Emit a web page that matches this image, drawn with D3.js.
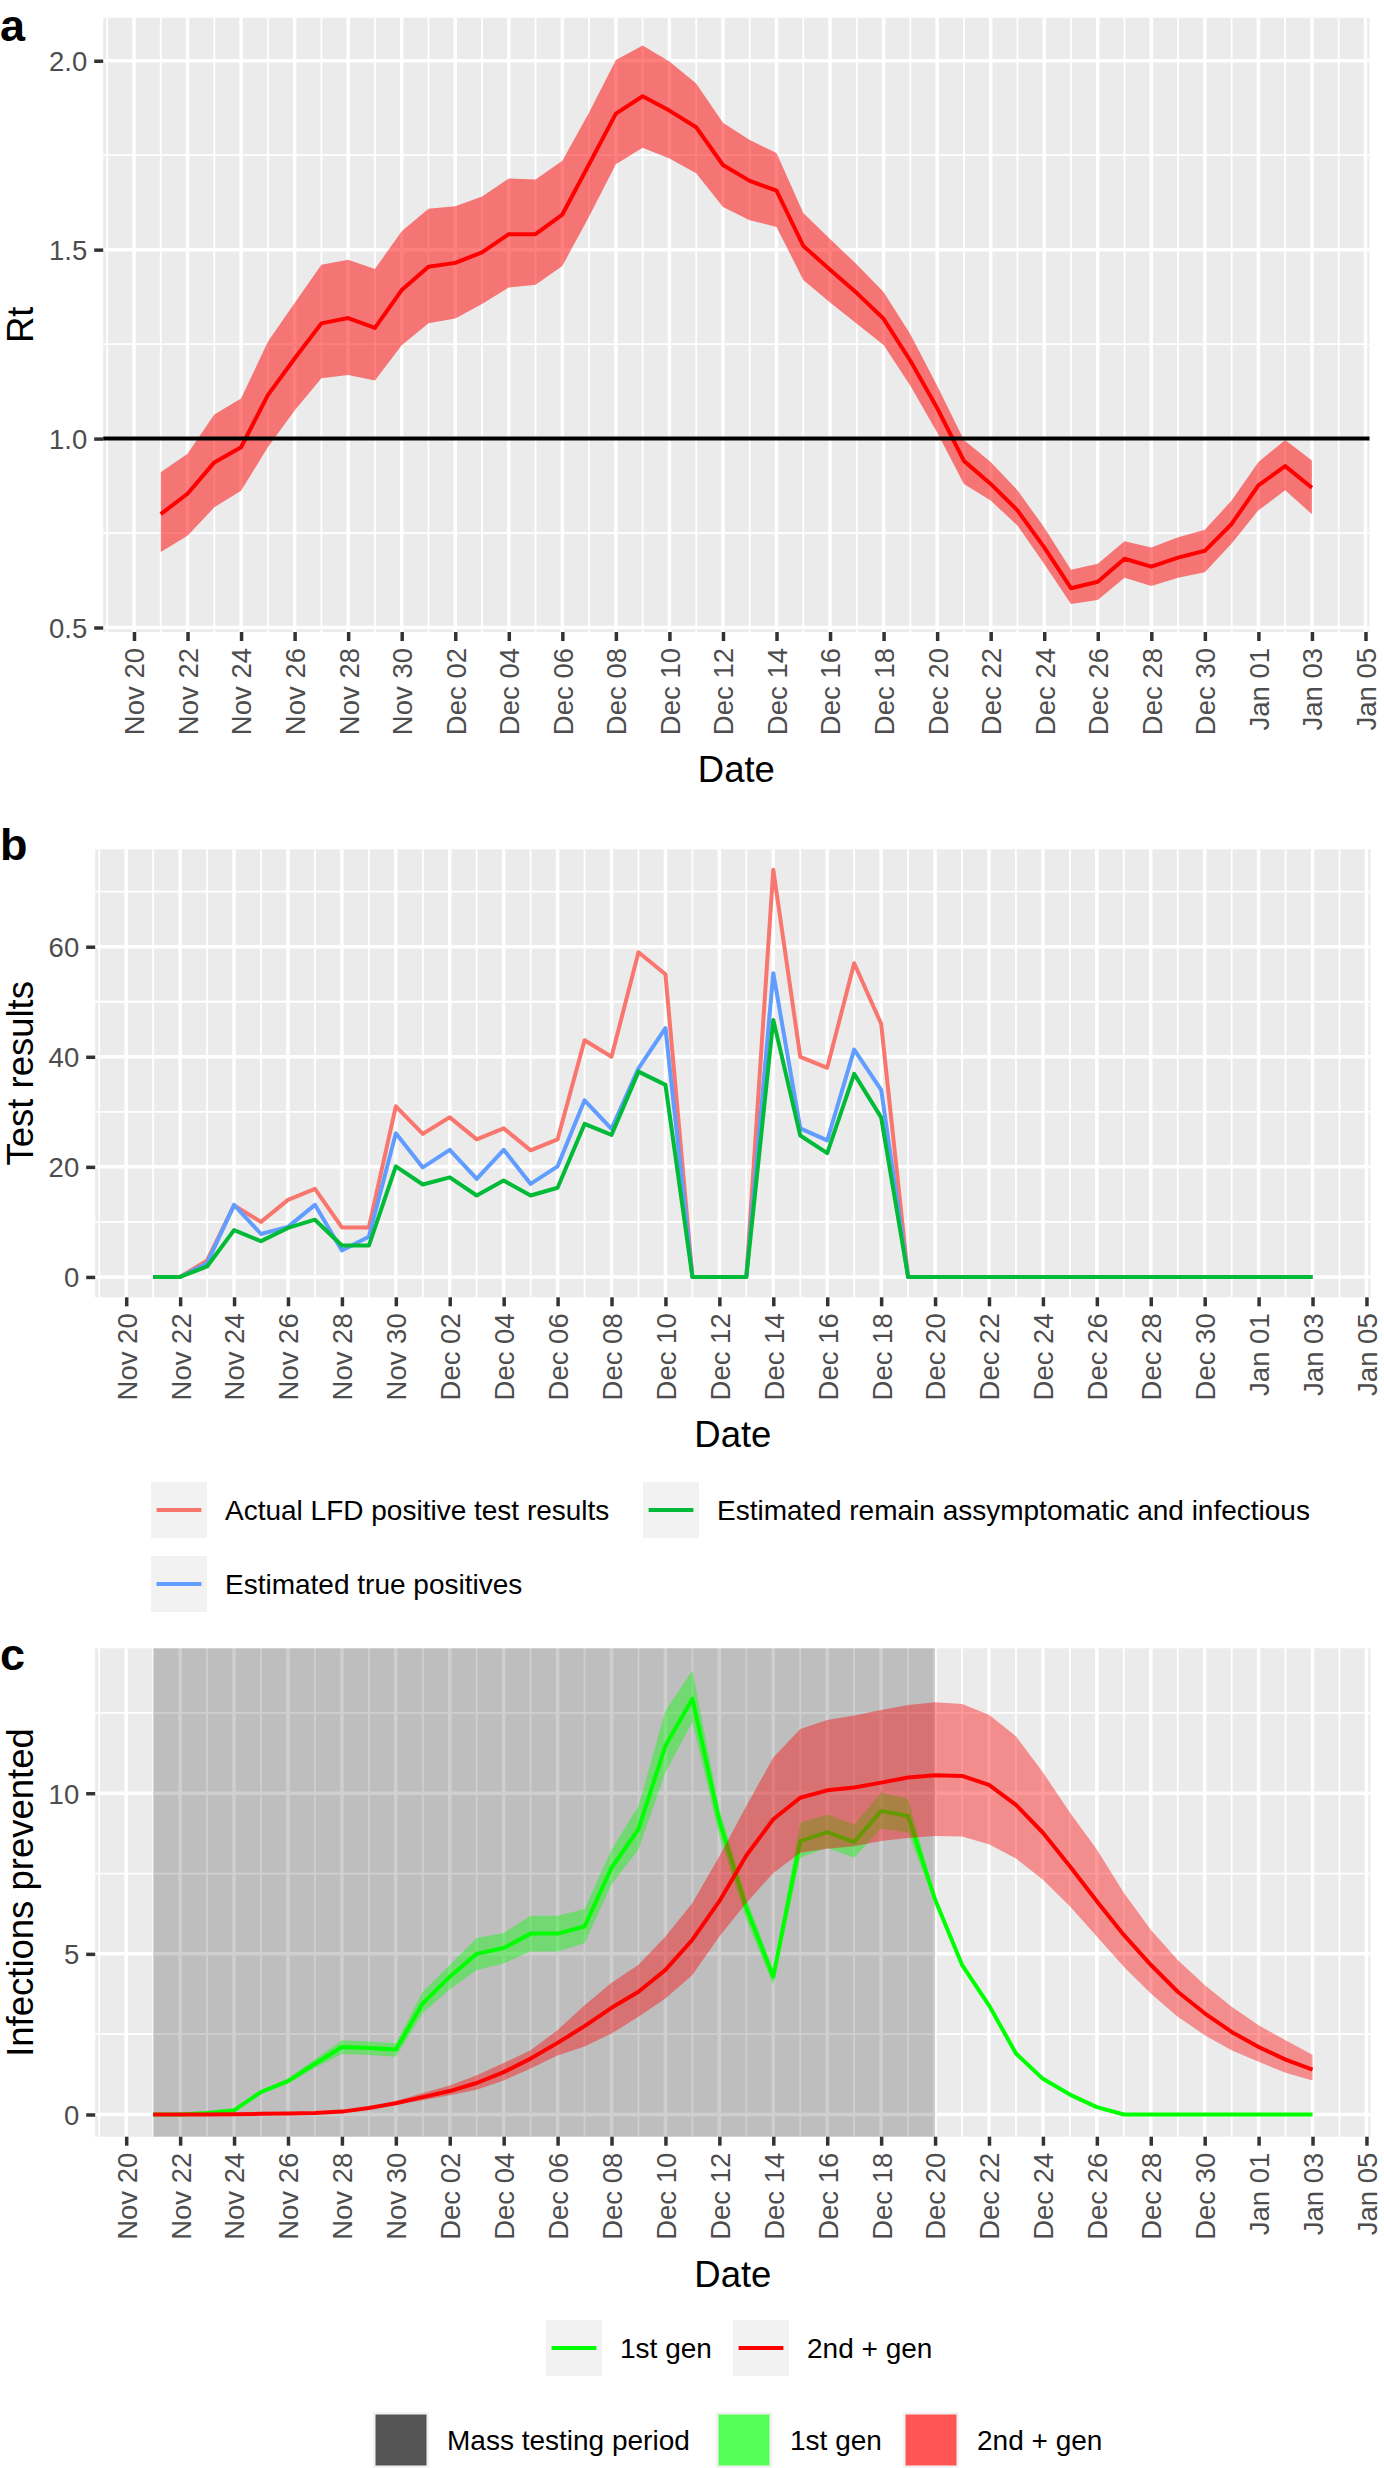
<!DOCTYPE html>
<html><head><meta charset="utf-8">
<script src="https://cdn.jsdelivr.net/npm/d3@7"></script>
<style>
body{margin:0;background:#fff;}
svg{display:block;}
</style></head><body>
<svg id="chart" width="1384" height="2468"></svg>
<script>
// ---------------- DATA ----------------
const dates = [
 "2020-11-21","2020-11-22","2020-11-23","2020-11-24","2020-11-25","2020-11-26","2020-11-27","2020-11-28","2020-11-29","2020-11-30",
 "2020-12-01","2020-12-02","2020-12-03","2020-12-04","2020-12-05","2020-12-06","2020-12-07","2020-12-08","2020-12-09","2020-12-10",
 "2020-12-11","2020-12-12","2020-12-13","2020-12-14","2020-12-15","2020-12-16","2020-12-17","2020-12-18","2020-12-19","2020-12-20",
 "2020-12-21","2020-12-22","2020-12-23","2020-12-24","2020-12-25","2020-12-26","2020-12-27","2020-12-28","2020-12-29","2020-12-30","2020-12-31",
 "2021-01-01","2021-01-02","2021-01-03"];

const tickDates = [
 "2020-11-20","2020-11-22","2020-11-24","2020-11-26","2020-11-28","2020-11-30",
 "2020-12-02","2020-12-04","2020-12-06","2020-12-08","2020-12-10","2020-12-12","2020-12-14","2020-12-16",
 "2020-12-18","2020-12-20","2020-12-22","2020-12-24","2020-12-26","2020-12-28","2020-12-30",
 "2021-01-01","2021-01-03","2021-01-05"];

// Panel a: Rt
const rtMean = [0.80,0.854,0.937,0.977,1.115,1.212,1.305,1.319,1.293,1.393,
 1.455,1.465,1.493,1.541,1.541,1.593,1.726,1.86,1.906,1.868,
 1.824,1.724,1.682,1.656,1.51,1.447,1.385,1.317,1.206,1.081,
 0.941,0.88,0.81,0.712,0.604,0.621,0.682,0.661,0.685,0.703,0.774,
 0.876,0.927,0.87];
const rtUpper = [0.911,0.96,1.064,1.106,1.256,1.359,1.46,1.473,1.449,1.549,
 1.608,1.615,1.641,1.688,1.686,1.735,1.863,2.002,2.04,1.998,
 1.94,1.836,1.79,1.756,1.597,1.528,1.461,1.388,1.276,1.14,
 0.996,0.938,0.863,0.765,0.653,0.669,0.728,0.712,0.739,0.759,0.836,
 0.938,0.996,0.942];
const rtLower = [0.70,0.743,0.818,0.862,0.977,1.074,1.16,1.168,1.154,1.247,
 1.305,1.318,1.356,1.40,1.407,1.457,1.588,1.726,1.77,1.741,
 1.702,1.613,1.578,1.56,1.42,1.36,1.304,1.248,1.14,1.016,
 0.88,0.836,0.77,0.668,0.562,0.573,0.632,0.61,0.632,0.646,0.722,
 0.81,0.863,0.80];
const rtThreshold = 1.0;

// Panel b: test results
const seriesB = ["Actual LFD positive test results","Estimated remain assymptomatic and infectious","Estimated true positives"];
const lfdActual = [0,0,3,13,10,14,16,9,9,31,
 26,29,25,27,23,25,43,40,59,55,
 0,0,0,74,40,38,57,46,0,0,
 0,0,0,0,0,0,0,0,0,0,0,
 0,0,0];
const truePositives = [0,0,2.5,13.1,7.8,9.1,13.1,4.8,7.3,26.1,
 19.9,23.1,17.8,23.1,16.9,20.1,32.1,26.9,37.9,45.2,
 0,0,0,55.2,27.0,24.8,41.3,34.0,0,0,
 0,0,0,0,0,0,0,0,0,0,0,
 0,0,0];
const asymInfectious = [0,0,1.9,8.5,6.5,8.9,10.4,5.7,5.7,20.1,
 16.8,18.1,14.8,17.5,14.8,16.2,27.8,25.8,37.3,34.9,
 0,0,0,46.7,25.7,22.5,36.9,29.0,0,0,
 0,0,0,0,0,0,0,0,0,0,0,
 0,0,0];

// Panel c: infections prevented
const massTesting = ["2020-11-21","2020-12-20"];
const gen1 = [0,0,0.05,0.13,0.70,1.04,1.58,2.10,2.07,2.02,
 3.46,4.29,5.0,5.18,5.63,5.63,5.85,7.68,8.88,11.48,
 12.94,9.14,6.43,4.29,8.51,8.79,8.48,9.45,9.29,6.69,
 4.66,3.4,1.9,1.11,0.62,0.23,0,0,0,0,0,
 0,0,0];
const gen1Lower = [0,0,0.04,0.11,0.64,0.96,1.45,1.88,1.85,1.80,
 3.15,3.9,4.5,4.7,5.07,5.07,5.33,7.16,8.25,10.65,
 12.21,8.67,6.06,4.03,7.99,8.3,7.99,8.9,8.77,6.58,
 4.61,3.37,1.88,1.10,0.61,0.23,0,0,0,0,0,
 0,0,0];
const gen1Upper = [0,0,0.06,0.14,0.76,1.12,1.72,2.31,2.27,2.22,
 3.82,4.65,5.49,5.65,6.19,6.19,6.4,8.25,9.6,12.57,
 13.82,9.5,6.74,4.5,9.08,9.34,9.03,10.02,9.83,6.79,
 4.71,3.43,1.92,1.12,0.63,0.23,0,0,0,0,0,
 0,0,0];
const gen2 = [0,0,0,0.01,0.02,0.03,0.05,0.09,0.2,0.35,
 0.54,0.73,0.98,1.32,1.74,2.23,2.75,3.32,3.82,4.5,
 5.44,6.64,8.06,9.19,9.86,10.09,10.18,10.33,10.49,10.56,
 10.54,10.26,9.64,8.77,7.73,6.64,5.59,4.66,3.82,3.15,2.57,
 2.1,1.71,1.40];
const gen2Lower = [0,0,0,0.01,0.02,0.03,0.04,0.08,0.18,0.3,
 0.44,0.6,0.77,1.06,1.43,1.84,2.12,2.52,3.04,3.61,
 4.34,5.54,6.58,7.52,8.15,8.27,8.35,8.51,8.61,8.67,
 8.65,8.41,7.97,7.31,6.48,5.54,4.6,3.77,3.04,2.47,2.0,
 1.64,1.3,1.06];
const gen2Upper = [0,0,0,0.01,0.02,0.03,0.06,0.1,0.22,0.42,
 0.67,0.9,1.22,1.6,2.0,2.63,3.4,4.1,4.66,5.54,
 6.58,8.04,9.6,11.11,12.0,12.28,12.42,12.59,12.75,12.83,
 12.78,12.44,11.77,10.65,9.4,8.25,6.9,5.75,4.81,4.03,3.35,
 2.78,2.31,1.86];

const yTicksA = [0.5,1.0,1.5,2.0], yMinorA = [0.75,1.25,1.75];
const yTicksB = [0,20,40,60], yMinorB = [10,30,50,70];
const yTicksC = [0,5,10], yMinorC = [2.5,7.5,12.5];

// ---------------- RENDER ----------------
const FONT = '"Liberation Sans", Arial, Helvetica, sans-serif';
const svg = d3.select("#chart").style("font-family", FONT);
const parse = d3.utcParse("%Y-%m-%d");
const D = dates.map(parse);
const TD = tickDates.map(parse);
const span = D[D.length-1] - D[0];
const xDomain = [new Date(+D[0] - 0.05*span), new Date(+D[D.length-1] + 0.05*span)];
const DAY = 864e5;
const xMinor = [new Date(+TD[0] - DAY)].concat(TD.slice(1).map((d,i)=> new Date((+d + +TD[i])/2)))
  .concat([new Date(+TD[TD.length-1] + DAY)])
  .filter(d => d >= xDomain[0] && d <= xDomain[1]);
const fmtDate = d3.utcFormat("%b %d");

function ext(arr){ const lo=d3.min(arr), hi=d3.max(arr), p=(hi-lo)*0.05; return [lo-p, hi+p]; }

function makePanel(o){
  const g = svg.append("g");
  const x = d3.scaleUtc().domain(xDomain).range([o.L, o.R]);
  const y = d3.scaleLinear().domain(o.yDomain).range([o.B, o.T]);
  g.append("rect").attr("x",o.L).attr("y",o.T).attr("width",o.R-o.L).attr("height",o.B-o.T).attr("fill","#EBEBEB");
  const grid = g.append("g").attr("stroke","#fff");
  o.yMinor.forEach(v => grid.append("line").attr("x1",o.L).attr("x2",o.R).attr("y1",y(v)).attr("y2",y(v)).attr("stroke-width",1.8));
  xMinor.forEach(d => grid.append("line").attr("x1",x(d)).attr("x2",x(d)).attr("y1",o.T).attr("y2",o.B).attr("stroke-width",1.8));
  o.yTicks.forEach(v => grid.append("line").attr("x1",o.L).attr("x2",o.R).attr("y1",y(v)).attr("y2",y(v)).attr("stroke-width",3.5));
  TD.forEach(d => grid.append("line").attr("x1",x(d)).attr("x2",x(d)).attr("y1",o.T).attr("y2",o.B).attr("stroke-width",3.5));
  const data = g.append("g");
  // x axis
  const xa = g.append("g").attr("transform",`translate(0,${o.B})`)
    .call(d3.axisBottom(x).tickValues(TD).tickFormat(fmtDate).tickSize(9).tickPadding(7));
  xa.select(".domain").remove();
  xa.attr("font-family",FONT).attr("font-size",27.5);
  xa.selectAll(".tick line").attr("stroke","#333333").attr("stroke-width",3.5);
  xa.selectAll(".tick text").attr("transform","rotate(-90)").attr("text-anchor","end")
    .attr("x",-16).attr("y",0).attr("dy","0.36em").attr("fill","#4D4D4D");
  // y axis
  const ya = g.append("g").attr("transform",`translate(${o.L},0)`)
    .call(d3.axisLeft(y).tickValues(o.yTicks).tickFormat(o.yFmt).tickSize(9).tickPadding(7));
  ya.select(".domain").remove();
  ya.attr("font-family",FONT).attr("font-size",27.5);
  ya.selectAll(".tick line").attr("stroke","#333333").attr("stroke-width",3.5);
  ya.selectAll(".tick text").attr("fill","#4D4D4D").attr("dy","0.36em");
  // titles
  g.append("text").attr("x",(o.L+o.R)/2).attr("y",o.B+150).attr("text-anchor","middle")
    .attr("font-size",36.5).attr("fill","#000").text("Date");
  g.append("text").attr("transform",`translate(33,${(o.T+o.B)/2}) rotate(-90)`).attr("text-anchor","middle")
    .attr("font-size",36.5).attr("fill","#000").text(o.yTitle);
  g.append("text").attr("x",0).attr("y",o.labelY).attr("font-size",45).attr("font-weight","bold")
    .attr("fill","#000").text(o.label);
  return {g, data, x, y};
}

const rows = D.map((d,i)=>({d, i}));

// ---- Panel a ----
const pa = makePanel({L:103.2,R:1369.5,T:17.7,B:632,
  yDomain: ext(rtLower.concat(rtUpper, [rtThreshold])), yTicks:yTicksA, yMinor:yMinorA,
  yFmt:d3.format(".1f"), yTitle:"Rt", label:"a", labelY:41});
pa.data.append("path").datum(rows)
  .attr("d", d3.area().x(r=>pa.x(r.d)).y0(r=>pa.y(rtLower[r.i])).y1(r=>pa.y(rtUpper[r.i])))
  .attr("fill","#FF0000").attr("fill-opacity",0.5);
pa.data.append("path").datum(rows)
  .attr("d", d3.line().x(r=>pa.x(r.d)).y(r=>pa.y(rtMean[r.i])))
  .attr("fill","none").attr("stroke","#FF0000").attr("stroke-width",4).attr("stroke-linejoin","round");
pa.data.append("line").attr("x1",103.2).attr("x2",1369.5).attr("y1",pa.y(rtThreshold)).attr("y2",pa.y(rtThreshold))
  .attr("stroke","#000").attr("stroke-width",4);

// ---- Panel b ----
const pb = makePanel({L:95.2,R:1370.5,T:849.3,B:1297.3,
  yDomain: ext(lfdActual.concat(truePositives, asymInfectious)), yTicks:yTicksB, yMinor:yMinorB,
  yFmt:d3.format("d"), yTitle:"Test results", label:"b", labelY:860});
const colB = {[seriesB[0]]:"#F8766D", [seriesB[1]]:"#00BA38", [seriesB[2]]:"#619CFF"};
[[lfdActual, seriesB[0]],[truePositives, seriesB[2]],[asymInfectious, seriesB[1]]].forEach(([arr,name])=>{
  pb.data.append("path").datum(rows)
    .attr("d", d3.line().x(r=>pb.x(r.d)).y(r=>pb.y(arr[r.i])))
    .attr("fill","none").attr("stroke",colB[name]).attr("stroke-width",4).attr("stroke-linejoin","round");
});
// legend b
const legB = svg.append("g").attr("font-size",28).attr("font-family",FONT);
[[seriesB[0],151,1482],[seriesB[1],643,1482],[seriesB[2],151,1556]].forEach(([name,kx,ky])=>{
  legB.append("rect").attr("x",kx).attr("y",ky).attr("width",56).attr("height",56).attr("fill","#F2F2F2");
  legB.append("line").attr("x1",kx+5.6).attr("x2",kx+50.4).attr("y1",ky+28).attr("y2",ky+28)
    .attr("stroke",colB[name]).attr("stroke-width",4);
  legB.append("text").attr("x",kx+74).attr("y",ky+38).attr("fill","#000").text(name);
});

// ---- Panel c ----
const pc = makePanel({L:95.2,R:1370.5,T:1648.3,B:2136.7,
  yDomain: ext(gen1Lower.concat(gen1Upper, gen2Lower, gen2Upper)), yTicks:yTicksC, yMinor:yMinorC,
  yFmt:d3.format("d"), yTitle:"Infections prevented", label:"c", labelY:1670});
const mt = massTesting.map(parse);
pc.data.append("rect").attr("x",pc.x(mt[0])).attr("width",pc.x(mt[1])-pc.x(mt[0]))
  .attr("y",1648.3).attr("height",2136.7-1648.3).attr("fill","#000").attr("fill-opacity",0.19);
pc.data.append("path").datum(rows)
  .attr("d", d3.area().x(r=>pc.x(r.d)).y0(r=>pc.y(gen1Lower[r.i])).y1(r=>pc.y(gen1Upper[r.i])))
  .attr("fill","#00FF00").attr("fill-opacity",0.4);
pc.data.append("path").datum(rows)
  .attr("d", d3.line().x(r=>pc.x(r.d)).y(r=>pc.y(gen1[r.i])))
  .attr("fill","none").attr("stroke","#00FF00").attr("stroke-width",4).attr("stroke-linejoin","round");
pc.data.append("path").datum(rows)
  .attr("d", d3.area().x(r=>pc.x(r.d)).y0(r=>pc.y(gen2Lower[r.i])).y1(r=>pc.y(gen2Upper[r.i])))
  .attr("fill","#FF0000").attr("fill-opacity",0.4);
pc.data.append("path").datum(rows)
  .attr("d", d3.line().x(r=>pc.x(r.d)).y(r=>pc.y(gen2[r.i])))
  .attr("fill","none").attr("stroke","#FF0000").attr("stroke-width",4).attr("stroke-linejoin","round");

// legends c
const legC = svg.append("g").attr("font-size",28).attr("font-family",FONT);
[["1st gen","#00FF00",546,2320],["2nd + gen","#FF0000",733,2320]].forEach(([name,c,kx,ky])=>{
  legC.append("rect").attr("x",kx).attr("y",ky).attr("width",56).attr("height",56).attr("fill","#F2F2F2");
  legC.append("line").attr("x1",kx+5.6).attr("x2",kx+50.4).attr("y1",ky+28).attr("y2",ky+28)
    .attr("stroke",c).attr("stroke-width",4);
  legC.append("text").attr("x",kx+74).attr("y",ky+38).attr("fill","#000").text(name);
});
[["Mass testing period","#555555",373,2412],["1st gen","#55FF55",716,2412],["2nd + gen","#FF5555",903,2412]].forEach(([name,c,kx,ky])=>{
  legC.append("rect").attr("x",kx).attr("y",ky).attr("width",56).attr("height",56).attr("fill","#F2F2F2");
  legC.append("rect").attr("x",kx+2.5).attr("y",ky+2.5).attr("width",51).attr("height",51).attr("fill",c);
  legC.append("text").attr("x",kx+74).attr("y",ky+38).attr("fill","#000").text(name);
});
</script>
</body></html>
